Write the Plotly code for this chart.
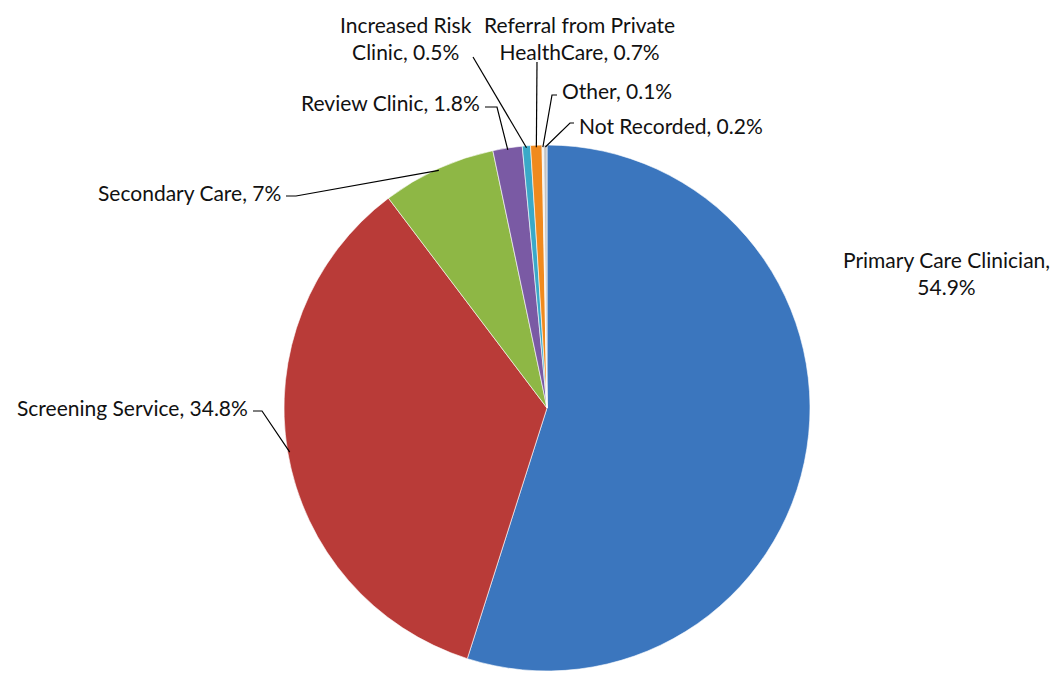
import math
import plotly.graph_objects as go

# Referral source shares (percent), clockwise from 12 o'clock
categories = [
    "Primary Care Clinician",
    "Screening Service",
    "Secondary Care",
    "Review Clinic",
    "Increased Risk Clinic",
    "Referral from Private HealthCare",
    "Other",
    "Not Recorded",
]
shares = [54.9, 34.8, 7, 1.8, 0.5, 0.7, 0.1, 0.2]
label_texts = [
    "Primary Care Clinician,<br>54.9%",
    "Screening Service, 34.8%",
    "Secondary Care, 7%",
    "Review Clinic, 1.8%",
    "Increased Risk<br>Clinic, 0.5%",
    "Referral from Private<br>HealthCare, 0.7%",
    "Other, 0.1%",
    "Not Recorded, 0.2%",
]
colors = ["#3B76BE", "#B93B38", "#8EB745", "#7A5AA4", "#3AA9C8", "#F08A1E", "#EDEBE2", "#C3C3C3"]

W, H = 1060, 673
CX, CY, R = 547, 408, 263  # pie centre and radius in pixels

# label placement: (text x, text y, xanchor, elbow x, elbow y) in pixels; None = no leader
label_layout = [
    (946, 273, "center", None, None),
    (250, 408, "right", 262, 411),
    (283, 192, "right", 296, 196),
    (482, 102, "right", 497, 107),
    (406, 38, "center", 473, 57),
    (579, 38, "center", 537, 62),
    (560, 91, "left", 552, 95),
    (577, 125, "left", 570, 123),
]

fig = go.Figure(
    go.Pie(
        labels=categories,
        values=shares,
        sort=False,
        direction="clockwise",
        rotation=0,
        textinfo="none",
        hoverinfo="label+percent",
        marker=dict(colors=colors, line=dict(color="rgba(255,255,255,0.6)", width=1)),
        domain=dict(x=[(CX - R) / W, (CX + R) / W], y=[(H - CY - R) / H, (H - CY + R) / H]),
        showlegend=False,
    )
)


def px(x):
    return x / W


def py(y):
    return 1 - y / H


total = sum(shares)
cum = 0.0
annotations = []
shapes = []
for val, txt, (tx, ty, anchor, ex, ey) in zip(shares, label_texts, label_layout):
    mid = (cum + val / 2) / total * 2 * math.pi
    cum += val
    annotations.append(dict(
        x=px(tx), y=py(ty), xref="paper", yref="paper", text=txt,
        showarrow=False, xanchor=anchor, yanchor="middle", align="center",
        font=dict(family="Lato, Calibri, sans-serif", size=21, color="#111111"),
    ))
    if ex is None:
        continue
    # leader line ends at the slice's mid-angle point on the rim
    rx = CX + (R - 2) * math.sin(mid)
    ry = CY - (R - 2) * math.cos(mid)
    sx = tx + (3 if anchor == "right" else -3) if anchor != "center" else ex
    sy = ey
    path = f"M {px(sx)},{py(sy)} L {px(ex)},{py(ey)} L {px(rx)},{py(ry)}"
    shapes.append(dict(type="path", xref="paper", yref="paper", path=path,
                       line=dict(color="#000000", width=1.2)))

fig.update_layout(
    width=W, height=H,
    margin=dict(l=0, r=0, t=0, b=0),
    paper_bgcolor="white", plot_bgcolor="white",
    annotations=annotations, shapes=shapes,
)

fig.write_html("out.html")
